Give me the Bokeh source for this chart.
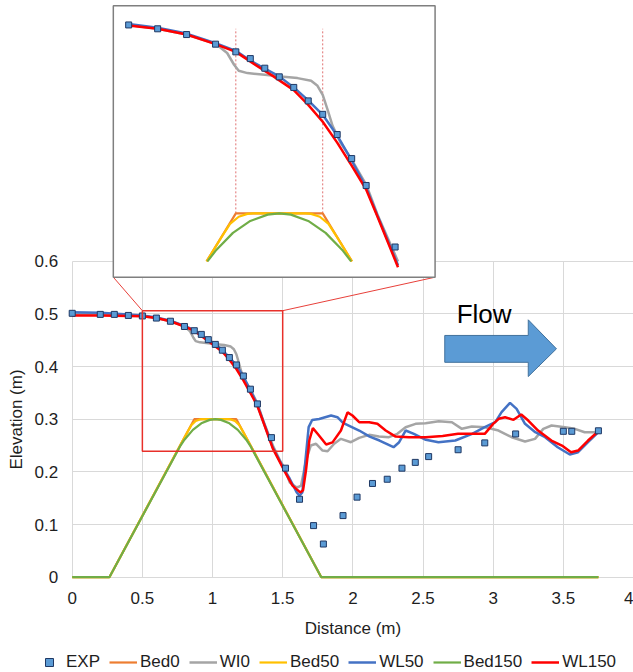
from bokeh.plotting import figure
from bokeh.models import Range1d, FixedTicker, Legend, LegendItem, BoxAnnotation
from bokeh.core.properties import value
from bokeh.embed import file_html
from bokeh.resources import INLINE

# ---------------- data ----------------
exp_x = [0, 0.2, 0.3, 0.4, 0.5, 0.6, 0.7, 0.8, 0.87, 0.92, 0.97, 1.02, 1.07, 1.12, 1.17,
         1.22, 1.27, 1.32, 1.42, 1.52, 1.62, 1.72, 1.79, 1.93, 2.03, 2.14, 2.245, 2.35,
         2.445, 2.54, 2.75, 2.94, 3.16, 3.50, 3.56, 3.75]
exp_y = [0.501, 0.499, 0.499, 0.497, 0.496, 0.492, 0.486, 0.476, 0.468, 0.461, 0.451, 0.442,
         0.431, 0.417, 0.403, 0.382, 0.357, 0.329, 0.265, 0.207, 0.148, 0.098, 0.063, 0.117,
         0.152, 0.178, 0.186, 0.207, 0.218, 0.229, 0.242, 0.255, 0.272, 0.277, 0.277, 0.278]

bed0_x = [0, 0.265, 0.769, 0.87, 1.17, 1.271, 1.775, 3.75]
bed0_y = [0, 0, 0.25, 0.3, 0.3, 0.25, 0, 0]

bed50_x = [0, 0.265, 0.769, 0.82, 0.85, 0.88, 0.91, 0.93, 1.11, 1.13, 1.16, 1.19, 1.22,
           1.271, 1.775, 3.75]
bed50_y = [0, 0, 0.25, 0.275, 0.289, 0.2965, 0.2995, 0.3, 0.3, 0.2995, 0.2965, 0.289,
           0.275, 0.25, 0, 0]

bed150_x = [0, 0.265, 0.772, 0.80, 0.86, 0.92, 0.98, 1.02, 1.06, 1.12, 1.18, 1.24, 1.268,
            1.775, 3.75]
bed150_y = [0, 0, 0.25, 0.261, 0.2797, 0.2921, 0.2987, 0.3, 0.2987, 0.2921, 0.2797, 0.261,
            0.25, 0, 0]

wl0_x = [0, 0.2, 0.4, 0.5, 0.6, 0.7, 0.8, 0.84, 0.864, 0.88, 0.91, 0.97, 1.025, 1.083, 1.13,
         1.152, 1.17, 1.187, 1.204, 1.233, 1.27, 1.32, 1.36, 1.43, 1.48, 1.51, 1.55, 1.59,
         1.61, 1.631, 1.666, 1.70, 1.738, 1.784, 1.82, 1.867, 1.915, 1.986, 2.045, 2.116,
         2.186, 2.257, 2.317, 2.376, 2.447, 2.518, 2.612, 2.706, 2.777, 2.848, 2.943, 3.038,
         3.132, 3.227, 3.298, 3.357, 3.416, 3.511, 3.582, 3.652, 3.723, 3.75]
wl0_y = [0.5, 0.499, 0.497, 0.496, 0.492, 0.486, 0.4765, 0.4668, 0.4546, 0.4483, 0.4459,
         0.4441, 0.4424, 0.4407, 0.4379, 0.4327, 0.4233, 0.4076, 0.391, 0.3728, 0.356, 0.33,
         0.298, 0.25, 0.222, 0.209, 0.18, 0.172, 0.171, 0.174, 0.2215, 0.25, 0.2533, 0.2405,
         0.2392, 0.2533, 0.2627, 0.2563, 0.2646, 0.2703, 0.267, 0.2658, 0.2722, 0.2848,
         0.2912, 0.2924, 0.2962, 0.2943, 0.2817, 0.2861, 0.2848, 0.2785, 0.2658, 0.2576,
         0.2627, 0.2817, 0.288, 0.2848, 0.2817, 0.2753, 0.2753, 0.2785]

wl50_x = [0, 0.2, 0.4, 0.5, 0.6, 0.7, 0.8, 0.87, 0.92, 0.97, 1.02, 1.07, 1.12, 1.17, 1.22,
          1.27, 1.32, 1.36, 1.43, 1.51, 1.55, 1.6, 1.62, 1.64, 1.662, 1.685, 1.71, 1.76,
          1.845, 1.89, 1.93, 2.045, 2.12, 2.19, 2.29, 2.33, 2.376, 2.435, 2.52, 2.61, 2.73,
          2.85, 2.94, 3.015, 3.06, 3.12, 3.167, 3.227, 3.3, 3.37, 3.46, 3.546, 3.605, 3.676,
          3.75]
wl50_y = [0.503, 0.502, 0.499, 0.497, 0.493, 0.487, 0.477, 0.469, 0.459, 0.4505, 0.4425,
          0.431, 0.4175, 0.4025, 0.381, 0.355, 0.327, 0.297, 0.246, 0.205, 0.187, 0.161,
          0.155, 0.161, 0.2215, 0.285, 0.2985, 0.3005, 0.307, 0.3038, 0.293, 0.2785, 0.267,
          0.2595, 0.2468, 0.2563, 0.2785, 0.2722, 0.2608, 0.2563, 0.2595, 0.2722, 0.2848,
          0.2943, 0.3133, 0.3311, 0.3197, 0.2912, 0.2753, 0.2658, 0.2468, 0.233, 0.2373,
          0.2563, 0.2753]

wl150_x = [0, 0.2, 0.4, 0.5, 0.6, 0.7, 0.8, 0.87, 0.93, 1.0, 1.07, 1.12, 1.17, 1.22, 1.27,
           1.32, 1.36, 1.43, 1.51, 1.57, 1.625, 1.645, 1.666, 1.69, 1.715, 1.75, 1.81, 1.855,
           1.915, 1.962, 1.997, 2.045, 2.116, 2.175, 2.234, 2.305, 2.4, 2.52, 2.64, 2.75,
           2.85, 2.94, 3.0, 3.04, 3.085, 3.145, 3.2, 3.25, 3.32, 3.415, 3.49, 3.555, 3.605,
           3.676, 3.75]
wl150_y = [0.497, 0.497, 0.496, 0.4955, 0.492, 0.486, 0.476, 0.468, 0.456, 0.4425, 0.4282,
           0.4128, 0.3953, 0.3736, 0.3497, 0.3248, 0.296, 0.244, 0.203, 0.174, 0.161, 0.165,
           0.203, 0.26, 0.283, 0.272, 0.252, 0.256, 0.2785, 0.313, 0.307, 0.2943, 0.2943,
           0.2912, 0.2785, 0.267, 0.2658, 0.2658, 0.268, 0.2722, 0.2722, 0.2722, 0.2912,
           0.3007, 0.3038, 0.2988, 0.3089, 0.2975, 0.2785, 0.2595, 0.25, 0.2373, 0.2405,
           0.2595, 0.2772]

x_ticks = [0, 0.5, 1, 1.5, 2, 2.5, 3, 3.5, 4]
x_tick_labels = ["0", "0.5", "1", "1.5", "2", "2.5", "3", "3.5", "4"]
y_ticks = [0, 0.1, 0.2, 0.3, 0.4, 0.5, 0.6]
y_tick_labels = ["0", "0.1", "0.2", "0.3", "0.4", "0.5", "0.6"]

# zoom window (red box) and the inset that magnifies it
zoom_box = dict(left=0.5, right=1.5, bottom=0.239, top=0.506)
inset_src_x = (0.447, 1.558)
inset_src_y = (0.2336, 0.516)
inset_tgt_x = (0.293, 2.586)
inset_tgt_y = (0.5696, 1.085)
inset_floor = 0.25
inset_x_start = 0.49

# "Flow" arrow (decoration, in data units)
arrow_x = [2.655, 3.25, 3.25, 3.451, 3.25, 3.25, 2.655]
arrow_y = [0.459, 0.459, 0.4887, 0.4336, 0.381, 0.408, 0.408]

FONT = "Liberation Sans"
TXT = "#1e1e1e"

C_BED0, C_WL0, C_BED50 = "#ED7D31", "#A5A5A5", "#FFC000"
C_WL50, C_BED150, C_WL150 = "#4472C4", "#70AD47", "#FF0000"

# the frame fills the whole canvas; axes are pinned at x=0 / y=0
p = figure(width=633, height=672, output_backend="svg", toolbar_location=None,
           x_range=Range1d(-0.511, 4), y_range=Range1d(-0.1809, 1.0949),
           min_border_left=0, min_border_right=0, min_border_top=0, min_border_bottom=0)
p.outline_line_color = None
p.background_fill_color = "white"
p.border_fill_color = "white"

for ax in (p.xaxis[0], p.yaxis[0]):
    ax.fixed_location = 0
    ax.axis_line_color = None
    ax.major_tick_line_color = None
    ax.minor_tick_line_color = None
    ax.major_tick_out = 0
    ax.major_tick_in = 0
    ax.major_label_text_font = FONT
    ax.major_label_text_font_size = "17px"
    ax.major_label_text_color = TXT
    ax.axis_label_text_font = FONT
    ax.axis_label_text_font_size = "17px"
    ax.axis_label_text_font_style = "normal"
    ax.axis_label_text_color = TXT

p.xaxis.ticker = FixedTicker(ticks=x_ticks)
p.xaxis.major_label_overrides = dict(zip(x_ticks, x_tick_labels))
p.xaxis.axis_label = "Distance (m)"
p.xaxis.bounds = (x_ticks[0], x_ticks[-1])
p.xaxis.major_label_standoff = 15
p.xaxis.axis_label_standoff = 11

p.yaxis.ticker = FixedTicker(ticks=y_ticks)
p.yaxis.major_label_overrides = dict(zip(y_ticks, y_tick_labels))
p.yaxis.axis_label = "Elevation (m)"
p.yaxis.bounds = (y_ticks[0], y_ticks[-1])
p.yaxis.major_label_standoff = 14
p.yaxis.axis_label_standoff = 6

# grid
p.xgrid.ticker = FixedTicker(ticks=x_ticks)
p.xgrid.cross_bounds = (y_ticks[0], y_ticks[-1])
p.ygrid.ticker = FixedTicker(ticks=y_ticks)
p.ygrid.cross_bounds = (x_ticks[0], x_ticks[-1])
p.grid.grid_line_color = "#D9D9D9"
p.grid.grid_line_width = 1

# main series
r_bed0 = p.line(bed0_x, bed0_y, color=C_BED0, line_width=2.2)
r_wl0 = p.line(wl0_x, wl0_y, color=C_WL0, line_width=2.5)
r_bed50 = p.line(bed50_x, bed50_y, color=C_BED50, line_width=2.2)
r_wl50 = p.line(wl50_x, wl50_y, color=C_WL50, line_width=2.5)
r_bed150 = p.line(bed150_x, bed150_y, color=C_BED150, line_width=2.2)
r_wl150 = p.line(wl150_x, wl150_y, color=C_WL150, line_width=2.5)
r_exp = p.scatter(exp_x, exp_y, marker="square", size=6, fill_color="#5B9BD5",
                  line_color="#1F3864", line_width=1)

# zoom rectangle and connectors to the inset
p.add_layout(BoxAnnotation(left=zoom_box["left"], right=zoom_box["right"],
                           bottom=zoom_box["bottom"], top=zoom_box["top"],
                           fill_alpha=0, line_color="#E8302A", line_alpha=1.0,
                           line_width=1.5))
p.segment(x0=[zoom_box["left"], zoom_box["right"]], y0=[zoom_box["top"], zoom_box["top"]],
          x1=[inset_tgt_x[0], inset_tgt_x[1]], y1=[inset_tgt_y[0], inset_tgt_y[0]],
          line_color="#E8403A", line_width=1)

# inset frame
p.quad(left=inset_tgt_x[0], right=inset_tgt_x[1], bottom=inset_tgt_y[0], top=inset_tgt_y[1],
       fill_color="white", line_color="#7F7F7F", line_width=1.5)

sub = p.subplot(x_source=Range1d(*inset_src_x), y_source=Range1d(*inset_src_y),
                x_target=Range1d(*inset_tgt_x), y_target=Range1d(*inset_tgt_y))


def wl_part(xs, ys):
    ox, oy = [], []
    for x, y in zip(xs, ys):
        if x < inset_x_start:
            continue
        ox.append(x)
        oy.append(y)
        if y <= inset_floor:
            break
    return ox, oy


def bed_part(xs, ys):
    ox, oy = [], []
    for x, y in zip(xs, ys):
        if y >= inset_floor - 1e-9:
            ox.append(x)
            oy.append(y)
    return ox, oy


# dotted crest markers
sub.segment(x0=[bed0_x[3], bed0_x[4]], y0=[bed0_y[3], bed0_y[4]],
            x1=[bed0_x[3], bed0_x[4]], y1=[0.492, 0.492],
            line_color="#E07070", line_width=1, line_dash="2 2")

for xs, ys, c, w in [(bed0_x, bed0_y, C_BED0, 2.2), (bed50_x, bed50_y, C_BED50, 2.2),
                     (bed150_x, bed150_y, C_BED150, 2.2)]:
    bx, by = bed_part(xs, ys)
    sub.line(bx, by, color=c, line_width=w)

for xs, ys, c in [(wl0_x, wl0_y, C_WL0), (wl50_x, wl50_y, C_WL50), (wl150_x, wl150_y, C_WL150)]:
    wx, wy = wl_part(xs, ys)
    sub.line(wx, wy, color=c, line_width=2.5)

ex = [x for x, y in zip(exp_x, exp_y) if x >= inset_x_start and y >= inset_floor]
ey = [y for x, y in zip(exp_x, exp_y) if x >= inset_x_start and y >= inset_floor]
sub.scatter(ex, ey, marker="square", size=6, fill_color="#5B9BD5",
            line_color="#1F3864", line_width=1)

# flow arrow and label
p.patch(arrow_x, arrow_y, fill_color="#5B9BD5", line_color="#41719C", line_width=1)
p.text(x=[2.74], y=[0.500], text=["Flow"], text_font=value(FONT), text_font_size="26px",
       text_color="#000000", text_baseline="alphabetic", text_align="left")

legend = Legend(items=[
    LegendItem(label="EXP", renderers=[r_exp]),
    LegendItem(label="Bed0", renderers=[r_bed0]),
    LegendItem(label="WI0", renderers=[r_wl0]),
    LegendItem(label="Bed50", renderers=[r_bed50]),
    LegendItem(label="WL50", renderers=[r_wl50]),
    LegendItem(label="Bed150", renderers=[r_bed150]),
    LegendItem(label="WL150", renderers=[r_wl150]),
], orientation="horizontal", location=(35, 0))
legend.label_text_font = FONT
legend.label_text_font_size = "17px"
legend.label_text_color = TXT
legend.glyph_width = 28
legend.glyph_height = 20
legend.label_height = 20
legend.label_standoff = 3
legend.spacing = 9
legend.padding = 0
legend.margin = 0
legend.border_line_color = None
legend.background_fill_alpha = 0
p.add_layout(legend)

open("out.html", "w").write(file_html(p, INLINE))
